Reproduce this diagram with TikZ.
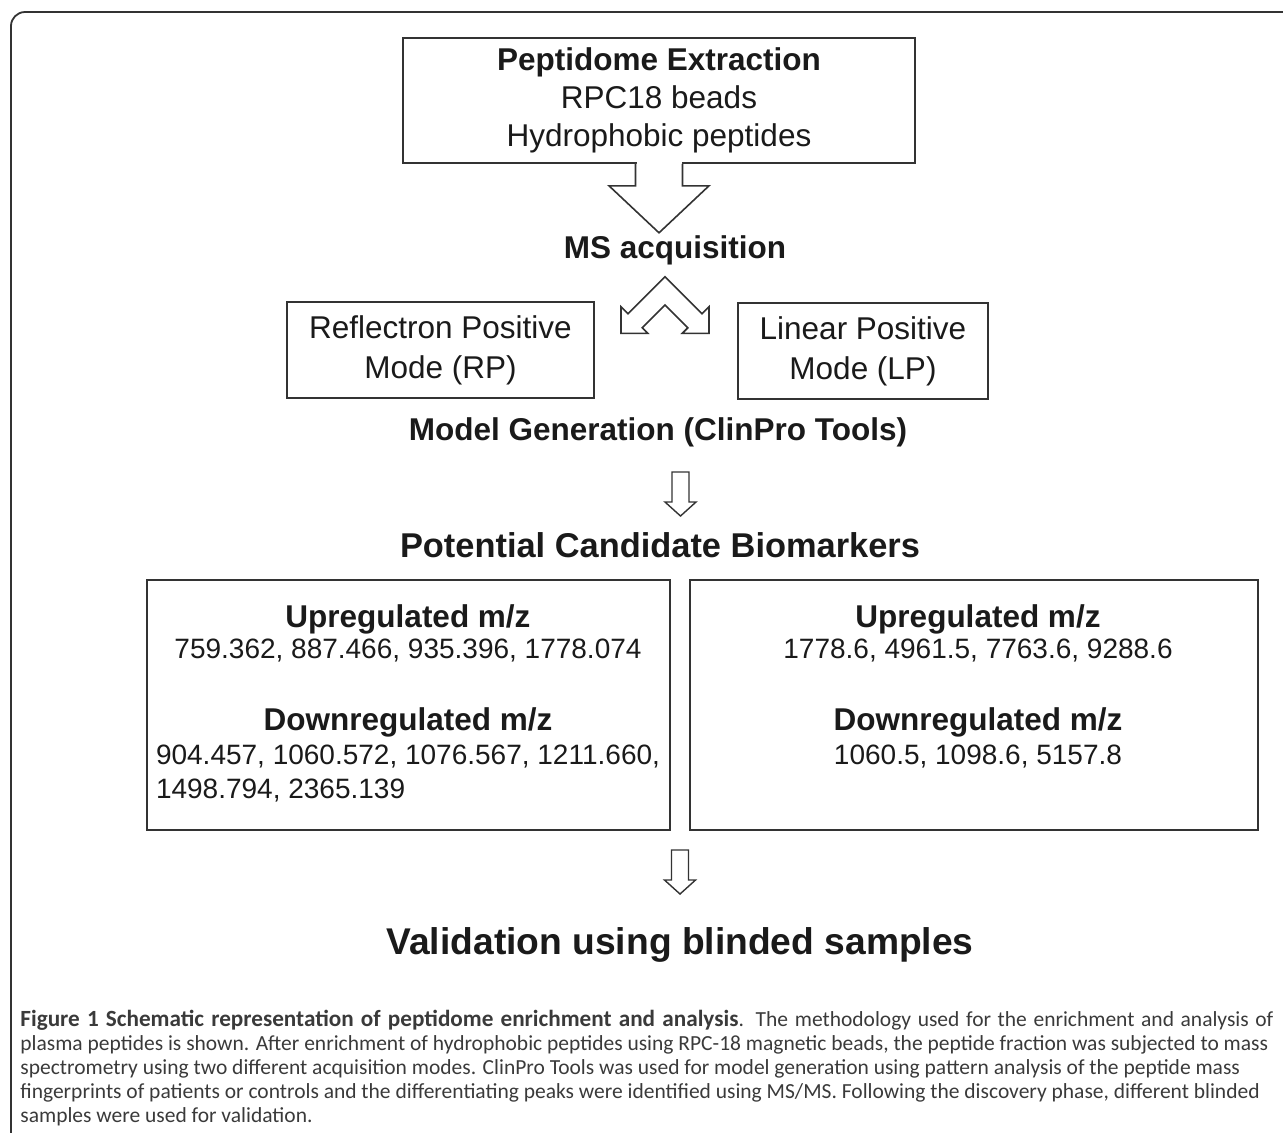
\documentclass[tikz,border=0pt]{standalone}
\usepackage{fontspec}
\setmainfont{Liberation Sans}
\newfontfamily\capfont{Carlito}
\definecolor{boxline}{HTML}{333333}
\definecolor{ink}{HTML}{1A1A1A}
\definecolor{capink}{HTML}{3A3A3A}

\begin{document}
\begin{tikzpicture}[x=0.5pt,y=-0.5pt,
stepbox/.style =
  {rectangle,
   draw=boxline, fill=white,
   line width=0.8pt, inner sep=0pt},
steptext/.style =
  {text=ink, align=center,
   font=\fontsize{15.75}{19}\selectfont},
headtext/.style =
  {text=ink, inner sep=0pt,
   font=\fontsize{15.75}{19}\selectfont\bfseries},
bigtext/.style =
  {text=ink, inner sep=0pt,
   font=\fontsize{17.2}{20}\selectfont\bfseries},
masstext/.style =
  {text=ink, inner sep=0pt,
   font=\fontsize{14}{17}\selectfont},
outline/.style =
  {draw=boxline, fill=white, line width=0.8pt, line join=miter},
down arrow/.pic =
  {\draw[outline, line width=0.7pt] (-4.25pt,0) -- (-4.25pt,-15pt) -- (-7.75pt,-15pt) -- (0,-22pt)
     -- (7.75pt,-15pt) -- (4.25pt,-15pt) -- (4.25pt,0) -- cycle;},
caption/.style =
  {text=capink, inner sep=0pt, align=left,
   font=\capfont\fontsize{10.75}{12}\selectfont}
]
\useasboundingbox (0,0) rectangle (1283,1132);
\clip (0,0) rectangle (1283,1132);
% frame round the figure
\draw[boxline, line width=0.9pt, rounded corners=7pt] (1300,12) -- (11,12) -- (11,1150);

%Nodes
\node[stepbox, steptext, minimum width=256pt, minimum height=62.5pt] (extract) at (659,100.5)
  {\textbf{Peptidome Extraction}\\RPC18 beads\\Hydrophobic peptides};
\fill[white] (636.5,160) rectangle (681.5,166);
\draw[outline] ([xshift=-11.75pt]extract.south) -- ++(0,22) -- ++(-26.5,0) -- ++(50,47)
  -- ++(50,-47) -- ++(-26.5,0) -- ++(0,-22);
\node[headtext] (acq) at (675,250) {MS acquisition};

% fork into the two modes
\draw[outline] (665,276.7) -- (628,313.7) -- (621,306.7) -- (621,333.3) -- (647.7,333.3)
  -- (642.2,327.8) -- (665,305) -- (687.8,327.8) -- (682.3,333.3) -- (709,333.3)
  -- (709,306.7) -- (702,313.7) -- cycle;
\node[stepbox, steptext, font=\fontsize{15.75}{20}\selectfont,
  minimum width=153.5pt, minimum height=48pt] (rp) at (440.5,350) {Reflectron Positive\\Mode (RP)};
\node[stepbox, steptext, font=\fontsize{15.75}{20}\selectfont,
  minimum width=125pt, minimum height=48pt] (lp) at (863,351) {Linear Positive\\Mode (LP)};

\node[headtext] (model) at (658,432) {Model Generation (ClinPro Tools)};
\pic (arrow-1) at (680.5,472) {down arrow};
\node[bigtext] (candidates) at (660,545) {Potential Candidate Biomarkers};

% marker boxes
\node[stepbox, minimum width=261.5pt, minimum height=125pt] (rp-markers) at (408.5,705) {};
\node[stepbox, minimum width=284pt, minimum height=125pt] (lp-markers) at (974,705) {};
\node[headtext] (rp-up) at (408,619) {Upregulated m/z};
\node[masstext] (rp-up-list) at (408,650) {759.362, 887.466, 935.396, 1778.074};
\node[headtext] (rp-down) at (408,722) {Downregulated m/z};
\node[masstext, align=left] (rp-down-list) at (408,773)
  {904.457, 1060.572, 1076.567, 1211.660,\\1498.794, 2365.139};
\node[headtext] (lp-up) at (978,619) {Upregulated m/z};
\node[masstext] (lp-up-list) at (978,650) {1778.6, 4961.5, 7763.6, 9288.6};
\node[headtext] (lp-down) at (978,722) {Downregulated m/z};
\node[masstext] (lp-down-list) at (978,756) {1060.5, 1098.6, 5157.8};

\pic (arrow-2) at (680,850) {down arrow};
\node[bigtext, font=\fontsize{18.6}{22}\selectfont\bfseries] (validation) at (680,945)
  {Validation using blinded samples};

% caption
\node[caption, anchor=north west] (legend) at (20,1010)
  {\makebox[626.5pt][s]{{\fontsize{11.6}{12}\selectfont\bfseries Figure 1 Schematic representation of peptidome enrichment and analysis}. The methodology used for the enrichment and analysis of}\\
   plasma peptides is shown. After enrichment of hydrophobic peptides using RPC-18 magnetic beads, the peptide fraction was subjected to mass\\
   spectrometry using two different acquisition modes. ClinPro Tools was used for model generation using pattern analysis of the peptide mass\\
   fingerprints of patients or controls and the differentiating peaks were identified using MS/MS. Following the discovery phase, different blinded\\
   samples were used for validation.};
\end{tikzpicture}
\end{document}
